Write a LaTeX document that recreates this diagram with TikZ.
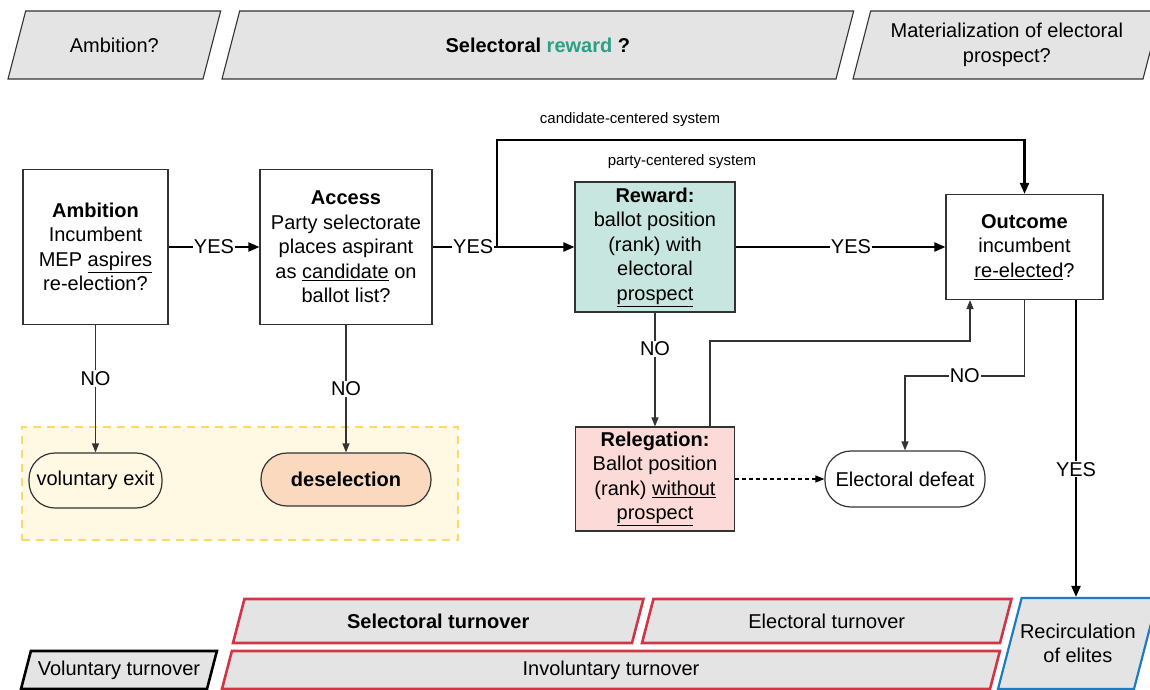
\documentclass[tikz,border=0pt]{standalone}
\usepackage{fontspec}
\setmainfont{Liberation Sans}
\usepackage{tikz}
\usetikzlibrary{arrows.meta}
\usepackage{xcolor}

\definecolor{boxgray}{HTML}{E4E4E4}
\definecolor{rewgreen}{HTML}{2BA084}
\definecolor{rewfill}{HTML}{C7E6DF}
\definecolor{relfill}{HTML}{FBDAD7}
\definecolor{desfill}{HTML}{FBD9BF}
\definecolor{zonefill}{HTML}{FFF8E3}
\definecolor{zoneline}{HTML}{FFD966}
\definecolor{turnred}{HTML}{D23645}
\definecolor{recblue}{HTML}{1E7BC0}
\definecolor{lineg}{HTML}{333333}

\tikzset{
  txt/.style={font=\fontsize{20}{24.5}\selectfont},
  small/.style={font=\fontsize{15}{18}\selectfont},
  slant/.style={txt, draw=lineg, line width=1.1pt, fill=boxgray},
  slantred/.style={slant, draw=turnred, line width=2.6pt},
  slantblue/.style={slant, draw=recblue, line width=2.2pt},
  slantblack/.style={slant, draw=black, line width=2.6pt},
  flowbox/.style={txt, draw=lineg, line width=1.2pt, fill=white, align=center, inner sep=3pt},
  endbox/.style={txt, draw=lineg, line width=1.2pt, fill=white, rounded corners=26pt, inner sep=2pt},
  zone/.style={draw=zoneline, fill=zonefill, line width=2.5pt, dash pattern=on 8pt off 6pt},
  yes/.style={line width=2.2pt, -{Triangle[length=11pt,width=9pt]}},
  no/.style={draw=lineg, line width=1.2pt, -{Triangle[length=9pt,width=7pt]}},
  dots/.style={line width=1.2pt, dash pattern=on 4pt off 3pt, -{Triangle[length=9pt,width=7pt]}},
  lbl/.style={txt, fill=white, inner sep=1pt}
}

\begin{document}
\begin{tikzpicture}[x=1pt,y=-1pt]
  \useasboundingbox (0,0) rectangle (1150,690);
  \clip (0,0) rectangle (1150,690);

  \foreach \nm/\st/\xl/\yt/\ww/\hh/\txt in {
    ambq/slant/8/11/195/68/{Ambition?},
    rewq/slant/222/11/614/68/{\textbf{Selectoral \textcolor{rewgreen}{reward} ?}},
    matq/slant/853/11/290/68/{Materialization of electoral\\prospect?},
    selt/slantred/233/599/399/44/{\textbf{Selectoral turnover}},
    elet/slantred/642/599/358/44/{Electoral turnover},
    rec/slantblue/998/598/136/91/{Recirculation\\of elites},
    volt/slantblack/21/651/186/38/{Voluntary turnover},
    invt/slantred/222/651/768/38/{Involuntary turnover}}
  {
    \draw[\st] (\xl+0.26*\hh,\yt) -- ++(\ww,0) -- ++(-0.26*\hh,\hh) -- ++(-\ww,0) -- cycle;
    \node[\st, draw=none, fill=none, minimum width=\ww pt, minimum height=\hh pt, align=center]
      (\nm) at (\xl+0.5*\ww+0.13*\hh,\yt+0.5*\hh) {\txt};
  }

  \node[flowbox, minimum width=145pt, minimum height=155pt] (amb) at (95.5,247)
    {\textbf{Ambition}\\Incumbent\\MEP \underline{aspires}\\re-election?};
  \node[flowbox, minimum width=172pt, minimum height=155pt] (acc) at (346,247)
    {\textbf{Access}\\Party selectorate\\places aspirant\\as \underline{candidate} on\\ballot list?};
  \node[flowbox, fill=rewfill, minimum width=160pt, minimum height=130pt] (rew) at (655,247)
    {\textbf{Reward:}\\ballot position\\(rank) with\\electoral\\\underline{prospect}};
  \node[flowbox, minimum width=157pt, minimum height=105pt] (out) at (1024.5,247)
    {\textbf{Outcome}\\incumbent\\\underline{re-elected}?};
  \node[flowbox, fill=relfill, minimum width=159pt, minimum height=104pt] (rel) at (655,479)
    {\textbf{Relegation:}\\Ballot position\\(rank) \underline{without}\\\underline{prospect}};
  \node[endbox, minimum width=160pt, minimum height=56pt] (def) at (905,479) {Electoral defeat};

  \node[zone, minimum width=436pt, minimum height=113pt] (zone) at (240,483.5) {};
  \node[endbox, fill=zonefill, minimum width=133pt, minimum height=55pt] (vexit) at (95.5,480.5) {voluntary exit};
  \node[endbox, fill=desfill, minimum width=170pt, minimum height=53pt] (desel) at (346,479.5) {\textbf{deselection}};

  \node[small] (candlbl) at (630,120) {candidate-centered system};
  \node[small] (partylbl) at (682,162) {party-centered system};

  \coordinate (split) at (497,247);
  \coordinate (cand) at (1024.5,140);
  \coordinate (back) at (970,341);
  \coordinate (lose) at (1024.5,376);

  \draw[yes] (amb) -- node[lbl]{YES} (acc);
  \draw[yes,-] (acc) -- node[lbl,pos=0.63]{YES} (split);
  \draw[yes] (split) -- (rew);
  \draw[yes] (split) |- (cand) -- (out);
  \draw[yes] (rew) -- node[lbl,pos=0.55]{YES} (out);
  \draw[yes] ([xshift=51.5pt]out.south) -- node[lbl,pos=0.57]{YES} ([xshift=51.5pt]out.south |- rec.north);
  \draw[no] (amb) -- node[lbl,pos=0.42]{NO} (vexit);
  \draw[no] (acc) -- node[lbl]{NO} (desel);
  \draw[no] (rew) -- node[lbl,pos=0.32]{NO} (rel);
  \draw[no] ([xshift=55pt]rel.north) |- (back) -- (back |- out.south);
  \draw[no] (out.south) -- (lose) -| node[lbl,pos=0.25]{NO} (def);
  \draw[dots] (rel) -- (def);
\end{tikzpicture}
\end{document}
